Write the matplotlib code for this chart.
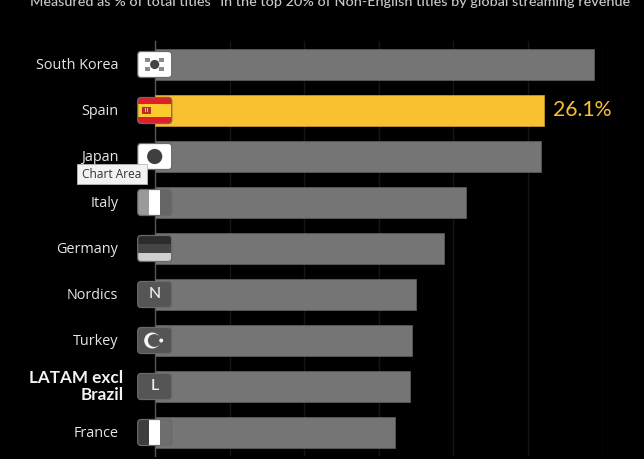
import matplotlib
matplotlib.use('Agg')
import matplotlib.pyplot as plt
from matplotlib.patches import Circle, FancyBboxPatch, Rectangle
from matplotlib.transforms import Affine2D

# Share of top titles by origin
regions = ['South Korea', 'Spain', 'Japan', 'Italy', 'Germany', 'Nordics',
           'Turkey', 'LATAM excl\nBrazil', 'France']
shares = [29.4, 26.1, 25.9, 20.85, 19.37, 17.5, 17.2, 17.06, 16.1]
highlight = 'Spain'
x_ticks = [0, 5, 10, 15, 20, 25, 30]
subtitle = 'Measured as % of total titles* in the top 20% of Non-English titles by global streaming revenue'

W, H = 644, 459
GOLD = '#f8bf2f'
GREY = '#757575'

fig = plt.figure(figsize=(W / 100, H / 100), dpi=100, facecolor='black')
ax = fig.add_axes([155.3 / W, 1 - 455.5 / H, (602.5 - 155.3) / W, 414 / H], facecolor='black')

colors = [GOLD if r == highlight else GREY for r in regions]
edges = ['#c4982c' if r == highlight else '#5a5a5a' for r in regions]
ax.barh(range(len(regions)), shares, height=0.655, color=colors, edgecolor=edges,
        linewidth=0.6, zorder=3)

ax.set_xlim(0, 30)
ax.set_ylim(len(regions) - 0.5, -0.5)
ax.set_xticks(x_ticks)
ax.set_xticklabels([])
ax.set_yticks([])
ax.tick_params(length=0)
ax.grid(axis='x', color='#151515', linewidth=1, zorder=1)
for s in ['top', 'right', 'bottom']:
    ax.spines[s].set_visible(False)
ax.spines['left'].set_color('#555555')
ax.spines['left'].set_linewidth(1)
ax.spines['left'].set_zorder(2)

# Region labels
for i, r in enumerate(regions):
    if '\n' in r:
        ax.annotate(r, xy=(0, i), xytext=(-32, 0), textcoords='offset pixels', ha='right',
                    va='center', color='#f2f2f2', fontsize=12.3, fontweight='bold',
                    family='Lato', linespacing=1.15, annotation_clip=False)
    else:
        ax.annotate(r, xy=(0, i), xytext=(-37, -1), textcoords='offset pixels', ha='right',
                    va='center', color='#e6e6e6', fontsize=10.4, family='Open Sans',
                    annotation_clip=False)

# Value label on the highlighted bar
h = regions.index(highlight)
ax.annotate(f'{shares[h]}%', xy=(shares[h], h), xytext=(9, 0), textcoords='offset pixels',
            ha='left', va='center', color=GOLD, fontsize=15.3, family='Lato',
            annotation_clip=False)

fig.text(330.5 / W, 1 - 5.5 / H, subtitle, ha='center', va='baseline', color='#c8c8c8',
         fontsize=10.4, family='Lato', fontweight='medium')


def flag(i, painter, fh=26):
    # local pixel coords, origin at the flag centre
    cx, cy = ax.transData.transform((0, i))
    tr = Affine2D().translate(cx - 0.6, cy)
    fw = 34
    clip = FancyBboxPatch((-fw / 2 + 2.5, -fh / 2 + 2.5), fw - 5, fh - 5,
                          boxstyle='round,pad=2.5,rounding_size=3.5', transform=tr,
                          facecolor='#555555', edgecolor='none', zorder=5)
    fig.add_artist(clip)

    def add(p):
        p.set_transform(tr)
        p.set_clip_path(clip)
        p.set_zorder(6)
        fig.add_artist(p)

    painter(add, fw, fh)
    fig.add_artist(FancyBboxPatch((-fw / 2 + 2.5, -fh / 2 + 2.5), fw - 5, fh - 5,
                                  boxstyle='round,pad=2.5,rounding_size=3.5', transform=tr,
                                  facecolor='none', edgecolor='#6a6a6a', linewidth=0.9, zorder=7))


def hstripes(cols):
    def paint(add, fw, fh):
        y = fh / 2
        for c, part in cols:
            add(Rectangle((-fw / 2, y - part * fh), fw, part * fh, facecolor=c, edgecolor='none'))
            y -= part * fh
    return paint


def vstripes(cols):
    def paint(add, fw, fh):
        x = -fw / 2
        for c in cols:
            add(Rectangle((x, -fh / 2), fw / 3, fh, facecolor=c, edgecolor='none'))
            x += fw / 3
    return paint


def korea(add, fw, fh):
    add(Rectangle((-fw / 2, -fh / 2), fw, fh, facecolor='white', edgecolor='none'))
    add(Circle((0, 0), 4.6, facecolor='#444444', edgecolor='none'))
    for dx in (-7, 7):
        for dy in (-4.5, 4.5):
            add(Rectangle((dx - 2.4, dy - 1.7), 4.8, 3.4, facecolor='#8a8a8a', edgecolor='none'))


def spain(add, fw, fh):
    hstripes([('#e01f2d', 0.25), ('#fdcb2e', 0.5), ('#e01f2d', 0.25)])(add, fw, fh)
    add(Rectangle((-12.5, -3.2), 8.5, 6.4, facecolor='#b5302a', edgecolor='none'))
    add(Rectangle((-10.2, -1.5), 1.3, 3.5, facecolor='#fdcb2e', edgecolor='none'))
    add(Rectangle((-7.6, -1.5), 1.3, 3.5, facecolor='#fdcb2e', edgecolor='none'))


def japan(add, fw, fh):
    add(Rectangle((-fw / 2, -fh / 2), fw, fh, facecolor='white', edgecolor='none'))
    add(Circle((0, 0), 7.6, facecolor='#3f3f3f', edgecolor='none'))


def turkey(add, fw, fh):
    add(Circle((-2.5, 0), 8.0, facecolor='#f5f5f5', edgecolor='none'))
    add(Circle((-0.4, 0), 6.4, facecolor='#555555', edgecolor='none'))
    add(Circle((6.5, 0), 2.0, facecolor='#f5f5f5', edgecolor='none'))


flag(0, korea)
flag(1, spain)
flag(2, japan)
flag(3, vstripes(['#9a9a9a', '#ffffff', '#666666']))
flag(4, hstripes([('#2c2c2c', 0.33), ('#454545', 0.33), ('#cfcfcf', 0.34)]))
flag(5, lambda add, fw, fh: None)
flag(6, turkey)
flag(7, lambda add, fw, fh: None)
flag(8, vstripes(['#3e3e3e', '#ffffff', '#6e6e6e']))

for i, letter in [(5, 'N'), (7, 'L')]:
    px, py = ax.transData.transform((0, i))
    fig.text((px - 1) / W, py / H, letter, ha='center', va='center', color='#f0f0f0',
             fontsize=11.5, family='Lato', fontweight='medium', zorder=9)

# Hover tooltip left in the capture
fig.add_artist(Rectangle((77 / W, 1 - 183.5 / H), 70 / W, 20 / H, transform=fig.transFigure,
                         facecolor='#f2f2f2', edgecolor='#b8b8b8', linewidth=0.6, zorder=10))
fig.text(112 / W, 1 - 174.5 / H, 'Chart Area', ha='center', va='center', color='#333333',
         fontsize=8.6, family='Open Sans', zorder=11)

fig.savefig('out.png', dpi=100, facecolor='black')
